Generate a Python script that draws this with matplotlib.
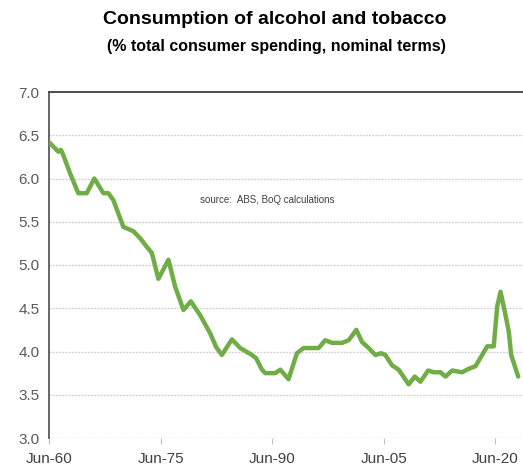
import matplotlib
matplotlib.use("Agg")
import matplotlib.pyplot as plt

# decimal years (quarter positions)
years = [1960.50, 1961.75, 1962.11, 1962.42, 1963.33, 1964.44, 1965.57, 1966.59,
         1967.81, 1968.48, 1969.15, 1970.50, 1971.84, 1972.74, 1973.64, 1974.32,
         1975.20, 1976.55, 1977.45, 1978.57, 1979.56, 1980.81, 1982.16, 1982.97,
         1983.73, 1985.08, 1986.20, 1987.77, 1988.35, 1989.12, 1989.56, 1990.91,
         1991.58, 1992.69, 1993.82, 1994.71, 1996.73, 1997.63, 1998.53, 1999.88,
         2000.77, 2001.80, 2002.57, 2003.46, 2004.36, 2005.13, 2005.70, 2006.60,
         2007.49, 2008.84, 2009.65, 2010.41, 2011.45, 2012.20, 2013.10, 2013.78,
         2014.68, 2016.02, 2016.91, 2017.81, 2018.71, 2019.39, 2020.27, 2020.73,
         2021.18, 2021.71, 2022.29, 2022.61, 2023.56]
share = [6.42, 6.31, 6.33, 6.27, 6.06, 5.83, 5.83, 6.00,
         5.83, 5.83, 5.75, 5.44, 5.39, 5.31, 5.21, 5.14,
         4.84, 5.06, 4.75, 4.48, 4.58, 4.42, 4.21, 4.05,
         3.96, 4.14, 4.04, 3.96, 3.92, 3.79, 3.75, 3.75,
         3.79, 3.68, 3.98, 4.04, 4.04, 4.13, 4.10, 4.10,
         4.13, 4.25, 4.11, 4.04, 3.96, 3.98, 3.96, 3.84,
         3.79, 3.62, 3.71, 3.65, 3.78, 3.76, 3.76, 3.71,
         3.78, 3.76, 3.80, 3.83, 3.96, 4.06, 4.06, 4.52,
         4.69, 4.48, 4.23, 3.96, 3.71]

tick_years = [1960.5, 1975.5, 1990.5, 2005.5, 2020.5]
tick_labels = ["Jun-60", "Jun-75", "Jun-90", "Jun-05", "Jun-20"]
y_ticks = [3.0, 3.5, 4.0, 4.5, 5.0, 5.5, 6.0, 6.5, 7.0]

fig = plt.figure(figsize=(5.23, 4.68), dpi=100)
ax = fig.add_axes([49/523, 1-438/468, 1-49/523, (438-92)/468])

ax.plot(years, share, color="#70AD47", linewidth=3.2, solid_joinstyle="round",
        solid_capstyle="round", zorder=3)

ax.set_xlim(1960.5, 2024.2)
ax.set_ylim(3.0, 7.0)
ax.set_yticks(y_ticks)
ax.set_yticklabels([f"{v:.1f}" for v in y_ticks], fontsize=11, color="#595959",
                   family="Liberation Sans")
ax.set_xticks(tick_years)
ax.set_xticklabels(tick_labels, fontsize=11, color="#404040", family="Liberation Sans")

for v in y_ticks[:-1]:
    ax.axhline(v, color="#d4d4d4", linewidth=1.0, linestyle=(0, (1.5, 0.8)), zorder=1)

ax.spines["left"].set_color("#595959")
ax.spines["left"].set_linewidth(1.3)
ax.spines["top"].set_color("#404040")
ax.spines["top"].set_linewidth(1.3)
ax.spines["right"].set_visible(False)
ax.spines["bottom"].set_visible(False)
ax.tick_params(axis="y", length=0, pad=7)
ax.tick_params(axis="x", length=4, color="#bfbfbf", pad=6)

ax.text(0.319, 0.688, "source:  ABS, BoQ calculations", transform=ax.transAxes,
        fontsize=7, color="#404040", family="Liberation Sans", va="center")

fig.text(0.525, 0.958, "Consumption of alcohol and tobacco", ha="center", va="center",
         fontsize=14, fontweight="bold", family="Liberation Sans")
fig.text(0.528, 0.900, "(% total consumer spending, nominal terms)", ha="center", va="center",
         fontsize=11.5, fontweight="bold", family="Liberation Sans")

fig.savefig("out.png", dpi=100)
